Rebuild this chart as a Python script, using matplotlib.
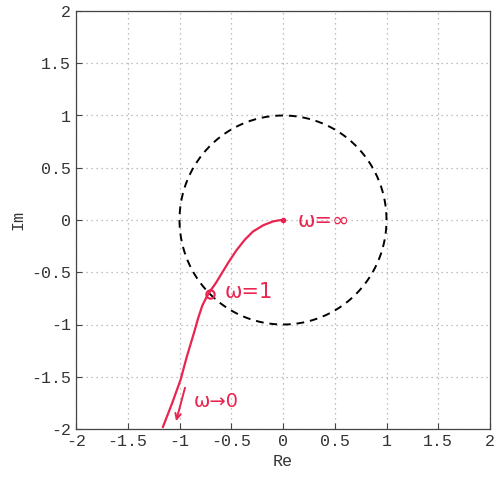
import numpy as np
import matplotlib.pyplot as plt

# Nyquist curve (Re, Im)
re_pts = [-1.16, -1.07, -0.99, -0.93, -0.86, -0.82, -0.78, -0.74, -0.70, -0.65,
          -0.61, -0.53, -0.45, -0.37, -0.29, -0.19, -0.10, -0.04, 0.0]
im_pts = [-1.98, -1.75, -1.53, -1.31, -1.08, -0.94, -0.82, -0.74, -0.675, -0.605,
          -0.54, -0.41, -0.29, -0.19, -0.11, -0.05, -0.015, -0.003, 0.0]
w1_point = (-0.707, -0.707)
ticks = [-2, -1.5, -1, -0.5, 0, 0.5, 1, 1.5, 2]
tick_labels = ['-2', '-1.5', '-1', '-0.5', '0', '0.5', '1', '1.5', '2']

red = '#e8244f'
mono = 'Liberation Mono'

fig = plt.figure(figsize=(4.96, 4.82), dpi=100)
ax = fig.add_axes([76 / 496, 53 / 482, 414 / 496, 418 / 482])

# unit circle
t = np.linspace(0, 2 * np.pi, 400)
ax.plot(np.cos(t), np.sin(t), color='black', linestyle=(0, (4, 3)), linewidth=1.4)

# curve and markers
ax.plot(re_pts, im_pts, color=red, linewidth=1.6, solid_joinstyle='round')
ax.plot([0], [0], 'o', color=red, markersize=3)
ax.plot([w1_point[0]], [w1_point[1]], 'o', markerfacecolor='none',
        markeredgecolor=red, markersize=6, markeredgewidth=1.5)

# hand-written notes
ax.text(0.14, -0.01, 'ω=∞', color=red, fontsize=15, va='center', ha='left')
ax.text(-0.56, -0.69, 'ω=1', color=red, fontsize=15, va='center', ha='left')
ax.text(-0.86, -1.74, 'ω→0', color=red, fontsize=14, va='center', ha='left')
ax.annotate('', xy=(-1.04, -1.95), xytext=(-0.94, -1.58),
            arrowprops=dict(arrowstyle='->', color=red, lw=1.4))

ax.set_xlim(-2, 2)
ax.set_ylim(-2, 2)
ax.set_xticks(ticks)
ax.set_yticks(ticks)
ax.set_xticklabels(tick_labels, fontfamily=mono, fontsize=12)
ax.set_yticklabels(tick_labels, fontfamily=mono, fontsize=12)
ax.tick_params(direction='in', length=4, color='#444444', labelcolor='#333333')
ax.grid(True, linestyle=(0, (1, 3)), color='#aaaaaa', linewidth=0.9)
for s in ax.spines.values():
    s.set_color('#444444')
    s.set_linewidth(0.9)

ax.set_xlabel('Re', fontfamily=mono, fontsize=12, color='#333333')
ax.set_ylabel('Im', fontfamily=mono, fontsize=12, color='#333333')

fig.savefig('out.png', dpi=100)
